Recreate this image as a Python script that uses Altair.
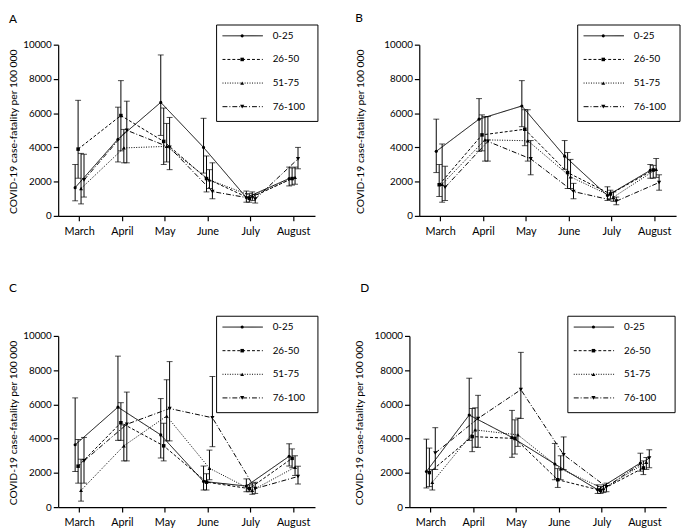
import altair as alt
import pandas as pd

months = ["March", "April", "May", "June", "July", "August"]
groups = ["0-25", "26-50", "51-75", "76-100"]
y_ticks = [0, 2000, 4000, 6000, 8000, 10000]
YTITLE = "COVID-19 case-fatality per 100 000"

# Panel A (rows follow groups)
A_mean = [[1650, 4480, 6630, 4000, 1070, 2180],
          [3900, 5860, 4350, 2180, 1030, 2180],
          [1600, 3970, 4060, 2100, 1150, 2250],
          [2100, 5000, 4000, 1420, 980, 3330]]
A_lo = [[880, 3150, 4700, 2500, 800, 1750],
        [2200, 3800, 3000, 1400, 800, 1800],
        [700, 3100, 3150, 1600, 900, 1850],
        [1100, 3100, 2700, 1000, 750, 2750]]
A_hi = [[3000, 6350, 9400, 5700, 1450, 2850],
        [6750, 7900, 6300, 3500, 1300, 2800],
        [3650, 5050, 5400, 2700, 1400, 2850],
        [3600, 6700, 5750, 3100, 1250, 4000]]

# Panel B
B_mean = [[3770, 5650, 6420, 3490, 1190, 2660],
          [1820, 4730, 5060, 2530, 1280, 2680],
          [1850, 4440, 4390, 2280, 1090, 2720],
          [1670, 4350, 3330, 1420, 860, 1950]]
B_lo = [[2530, 3770, 5210, 2720, 900, 2200],
        [1130, 3800, 4100, 1600, 1000, 2200],
        [800, 3200, 3200, 1600, 850, 2250],
        [900, 3200, 2400, 1000, 650, 1500]]
B_hi = [[5650, 6850, 7900, 4400, 1700, 3000],
        [3000, 5900, 6200, 3700, 1500, 2950],
        [4200, 5800, 6200, 3300, 1400, 3350],
        [2900, 5800, 4400, 1900, 1100, 2400]]

# Panel C
C_mean = [[3640, 5840, 4220, 1500, 1230, 2970],
          [2390, 4930, 3580, 1460, 1080, 2850],
          [980, 3580, 5320, 2270, 980, 2330],
          [2700, 4840, 5760, 5220, 1080, 1790]]
C_lo = [[2080, 3900, 2870, 1000, 900, 2400],
        [1400, 3900, 2700, 1000, 900, 2300],
        [350, 2700, 3870, 1600, 750, 1850],
        [1400, 2700, 3870, 3530, 800, 1350]]
C_hi = [[6380, 8820, 6340, 2400, 1650, 3700],
        [3950, 6100, 4900, 1950, 1300, 3400],
        [2800, 4800, 7440, 3330, 1400, 3000],
        [4070, 6720, 8500, 7630, 1450, 2390]]

# Panel D
D_mean = [[2080, 5380, 4070, 2520, 1020, 2580],
          [2020, 4120, 4010, 1600, 980, 2290],
          [1450, 4510, 4220, 2230, 1080, 2620],
          [3160, 5180, 6860, 3060, 1180, 2870]]
D_lo = [[1120, 3900, 2910, 1600, 800, 2100],
        [1200, 3240, 3100, 1150, 800, 1900],
        [1000, 3500, 3550, 1600, 850, 2200],
        [2200, 3490, 5180, 2200, 900, 2300]]
D_hi = [[3970, 7530, 5650, 3720, 1300, 3150],
        [3450, 5760, 5100, 2250, 1200, 2700],
        [2200, 5800, 5200, 3000, 1300, 2900],
        [4640, 6530, 9040, 4100, 1400, 3350]]

dashes = [[1, 0], [3, 2], [1, 1.5], [5, 2, 1, 2]]
shapes = ["circle", "square", "triangle-up", "triangle-down"]
sizes = [10, 18, 14, 14]

W, H = 261, 174
STEP = W / len(months)


def frame(mean, lo, hi):
    rows = []
    for g, m_row, l_row, h_row in zip(groups, mean, lo, hi):
        for i, mo in enumerate(months):
            rows.append(dict(group=g, month=mo, idx=i, mean=m_row[i], lo=l_row[i], hi=h_row[i]))
    return pd.DataFrame(rows)


def panel(letter, mean, lo, hi, letter_x, letter_y, title_x, box_right):
    df = frame(mean, lo, hi)
    ysc = alt.Scale(domain=[0, 10000], nice=False)
    yaxis = alt.Axis(values=y_ticks, format="d", title=YTITLE, grid=False,
                     titleX=title_x, titleY=88, titleBaseline="top", titleAngle=-90, titleAlign="center")
    x = alt.X("month:N", sort=months,
              scale=alt.Scale(domain=months, paddingInner=0, paddingOuter=0),
              axis=alt.Axis(title=None, labelAngle=0, grid=False))
    xo = alt.XOffset("group:N", scale=alt.Scale(type="point", domain=groups,
                                                range=[STEP / 2 - 4.5, STEP / 2 + 4.5], padding=0))
    dash = alt.StrokeDash("group:N", scale=alt.Scale(domain=groups, range=dashes), legend=None)
    shape = alt.Shape("group:N", scale=alt.Scale(domain=groups, range=shapes), legend=None)
    size = alt.Size("group:N", scale=alt.Scale(domain=groups, range=sizes), legend=None)

    base = alt.Chart(df).encode(x=x, xOffset=xo)
    bars = base.mark_rule(color="black", strokeWidth=1).encode(
        y=alt.Y("lo:Q", scale=ysc, axis=yaxis), y2="hi:Q")
    cap_lo = base.mark_tick(color="black", thickness=1, size=6, orient="horizontal").encode(
        y=alt.Y("lo:Q", scale=ysc, axis=yaxis))
    cap_hi = base.mark_tick(color="black", thickness=1, size=6, orient="horizontal").encode(
        y=alt.Y("hi:Q", scale=ysc, axis=yaxis))
    lines = base.mark_line(color="black", strokeWidth=1).encode(
        y=alt.Y("mean:Q", scale=ysc, axis=yaxis), strokeDash=dash, detail="group:N", order="idx:Q")
    pts = base.mark_point(filled=True, color="black", opacity=1).encode(
        y=alt.Y("mean:Q", scale=ysc, axis=yaxis), shape=shape, size=size)
    data_layer = alt.layer(bars, cap_lo, cap_hi, lines, pts)

    leg_df = pd.DataFrame({"group": groups})
    ly = alt.Y("group:N", scale=alt.Scale(type="point", domain=groups, range=[-9, 63], padding=0), axis=None)
    leg = alt.Chart(leg_df)
    one = pd.DataFrame({"k": [0]})
    box = alt.Chart(one).mark_rect(fill="white", stroke="black", strokeWidth=1).encode(
        x=alt.value(161), x2=alt.value(box_right), y=alt.value(-20), y2=alt.value(78))
    llines = leg.mark_rule(color="black", strokeWidth=1).encode(
        x=alt.value(167), x2=alt.value(208), y=ly, strokeDash=dash)
    lpts = leg.mark_point(filled=True, color="black", opacity=1).encode(
        x=alt.value(187), y=ly, shape=shape, size=size)
    ltxt = leg.mark_text(align="left", baseline="middle", font="Lato", fontSize=10, color="black").encode(
        x=alt.value(218), y=ly, text="group:N")
    lab = alt.Chart(one).mark_text(text=letter, align="left", baseline="top", font="Lato",
                                   fontSize=12, color="black").encode(
        x=alt.value(letter_x), y=alt.value(letter_y))
    legend_layer = alt.layer(box, llines, lpts, ltxt, lab)

    return alt.layer(data_layer, legend_layer).resolve_scale(y="independent").properties(width=W, height=H)


pA = panel("A", A_mean, A_lo, A_hi, -50, -31, -50, 264)
pB = panel("B", B_mean, B_lo, B_hi, -65, -32, -65, 265)
pC = panel("C", C_mean, C_lo, C_hi, -50, -54, -50, 264)
pD = panel("D", D_mean, D_lo, D_hi, -50, -54, -56, 270)

row1 = alt.hconcat(pA, pB, spacing=36)
row2 = alt.hconcat(pC, pD, spacing=35)

chart = alt.vconcat(row1, row2, spacing=46).properties(padding=0).configure_view(
    stroke=None
).configure_axis(
    labelFont="Lato", labelFontSize=11, labelColor="black",
    titleFont="Lato", titleFontSize=10.5, titleFontWeight="normal", titleColor="black",
    domainColor="black", domainWidth=1.2, tickColor="black", tickWidth=1.2, tickSize=5,
    labelPadding=2
).configure_axisY(labelFontSize=10).configure_axisX(labelPadding=4.5)

chart.save("out.html", embed_options={"renderer": "svg", "actions": False})
